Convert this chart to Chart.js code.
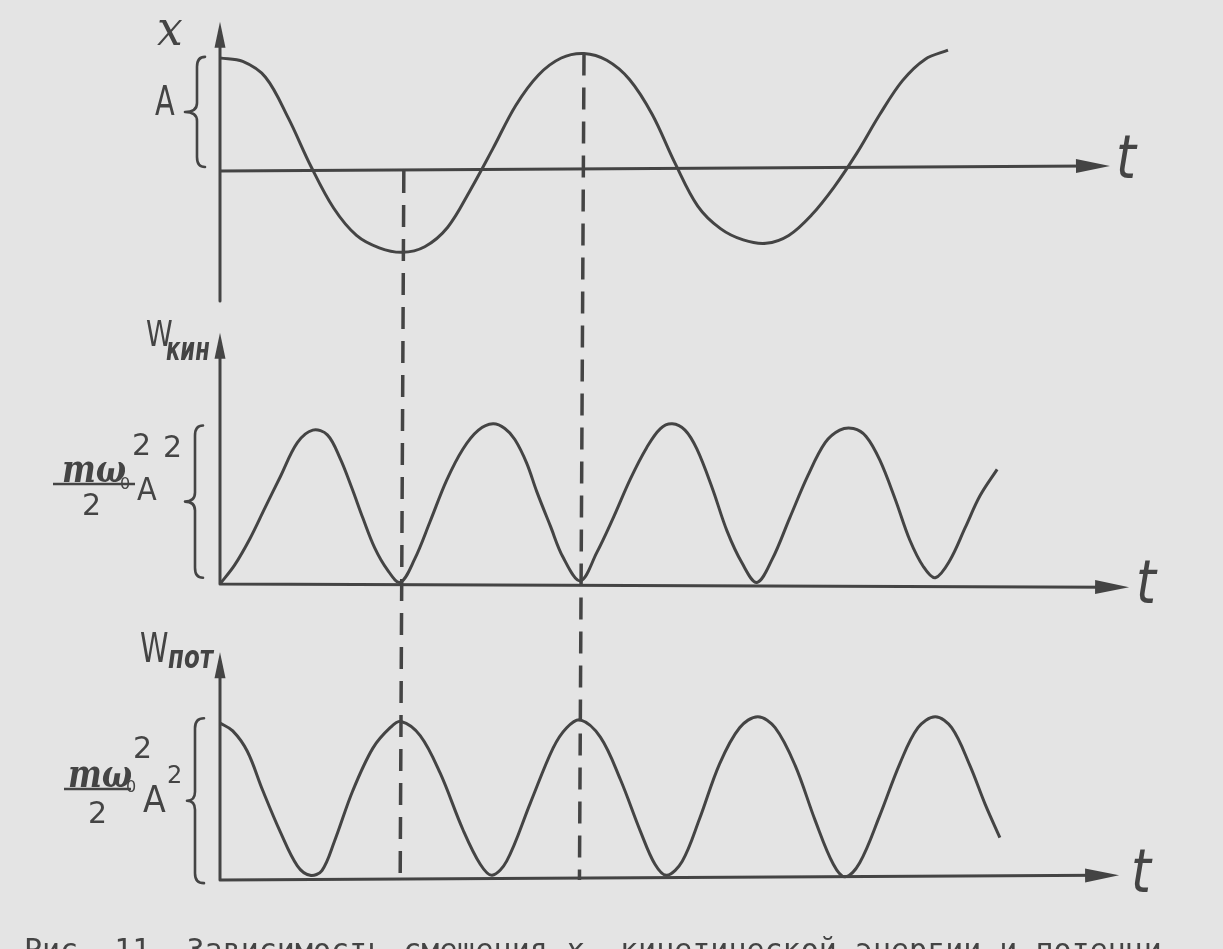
<!DOCTYPE html>
<html>
<head>
<meta charset="utf-8">
<title>Рис. 11</title>
<script src="https://cdn.jsdelivr.net/npm/chart.js@4.4.1/dist/chart.umd.min.js"></script>
<style>
    html, body { margin: 0; padding: 0; }
    body { width: 1223px; height: 949px; overflow: hidden; background: #e4e4e4; position: relative; }
    #fig { position: absolute; left: 0; top: 0; }
    #caption { position: absolute; left: 24px; top: 935px; font: 30px/30px "DejaVu Sans Mono", monospace; color: #444; white-space: pre; }
</style>
</head>
<body>
<canvas id="fig" width="1223" height="949"></canvas>
<div id="caption">Рис. 11. Зависимость смещения <i>x</i>, кинетической энергии и потенци-</div>
<script>
// displacement x(t), in units of A
const tX = [0, 0.25, 0.5, 0.75, 1.0, 1.25, 1.5, 1.75, 2.0, 2.25, 2.5, 2.75, 3.0, 3.25, 3.5, 3.75, 4.0,
    4.25, 4.5, 4.75, 5.0, 5.25, 5.5, 5.75, 6.0, 6.25, 6.5, 6.75, 7.0, 7.25, 7.5, 7.75, 8.0]
const xVals = [1.00, 0.97, 0.83, 0.47, 0.04, -0.33, -0.57, -0.68, -0.72, -0.67, -0.50, -0.17, 0.20, 0.58, 0.85, 1.00, 1.04,
    0.98, 0.81, 0.50, 0.07, -0.31, -0.51, -0.61, -0.64, -0.57, -0.39, -0.14, 0.16, 0.50, 0.80, 0.99, 1.07]

// kinetic energy, in units of m*w0^2*A^2/2
const tKin = [0, 0.16, 0.33, 0.49, 0.66, 0.85, 1.02, 1.18, 1.32, 1.45, 1.57, 1.70, 1.84, 1.98,
    2.14, 2.31, 2.49, 2.67, 2.84, 3.00, 3.13, 3.24, 3.37, 3.48, 3.63, 3.77, 3.96,
    4.14, 4.32, 4.51, 4.69, 4.84, 4.97, 5.11, 5.24, 5.41, 5.57, 5.74, 5.90,
    6.07, 6.26, 6.46, 6.65, 6.81, 6.96, 7.10, 7.25, 7.42, 7.58, 7.73, 7.86,
    8.02, 8.19, 8.35, 8.54]
const wKin = [0, 0.12, 0.29, 0.48, 0.68, 0.90, 0.98, 0.95, 0.80, 0.61, 0.42, 0.23, 0.09, 0.01,
    0.16, 0.40, 0.66, 0.86, 0.98, 1.02, 0.99, 0.92, 0.77, 0.59, 0.37, 0.17, 0.02,
    0.20, 0.42, 0.67, 0.87, 0.99, 1.02, 0.98, 0.86, 0.61, 0.34, 0.13, 0.01,
    0.16, 0.42, 0.69, 0.90, 0.98, 0.99, 0.94, 0.79, 0.54, 0.28, 0.11, 0.04,
    0.15, 0.36, 0.56, 0.73]

// potential energy, same units
const tPot = [0, 0.14, 0.30, 0.47, 0.66, 0.85, 0.99, 1.12, 1.26, 1.46, 1.68, 1.87, 1.99,
    2.20, 2.42, 2.67, 2.86, 2.99, 3.15, 3.41, 3.66, 3.81, 3.96,
    4.18, 4.40, 4.62, 4.78, 4.91, 5.08, 5.27, 5.49, 5.71, 5.91,
    6.10, 6.32, 6.54, 6.74, 6.87, 7.03, 7.25, 7.47, 7.67, 7.86,
    8.04, 8.24, 8.41, 8.57]
const wPot = [1.00, 0.95, 0.82, 0.57, 0.31, 0.09, 0.03, 0.06, 0.25, 0.57, 0.84, 0.97, 1.01,
    0.92, 0.68, 0.32, 0.10, 0.03, 0.12, 0.49, 0.84, 0.97, 1.02,
    0.91, 0.64, 0.31, 0.10, 0.03, 0.12, 0.39, 0.74, 0.97, 1.04,
    0.97, 0.73, 0.38, 0.10, 0.02, 0.11, 0.41, 0.74, 0.97, 1.04,
    0.97, 0.73, 0.48, 0.27]

// dashed guides: t at top / bottom, and x-value where each one starts
const guideTopT = [2.02, 4.0]
const guideBotT = [1.98, 3.95]
const guideStart = [0, 1.04]

const INK = "#444444"
const AREA_TOP = 20
const AREA_BOTTOM = 885

// y range so that value 0 sits at basePx with pxPerUnit scale
function band(basePx, pxPerUnit) {
    return { min: -(AREA_BOTTOM - basePx) / pxPerUnit, max: (basePx - AREA_TOP) / pxPerUnit }
}

function toPoints(ts, vs) {
    return ts.map((t, i) => ({ x: t, y: vs[i] }))
}

const panels = [
    { axis: "y1", top: 1.32, bottom: -1.15, end: 9.78, rise: 0.045, brace: [0.035, 1.01], braceX: [205, 197, 185] },
    { axis: "y2", top: 1.60, bottom: 0, end: 9.99, rise: -0.02, brace: [0.04, 1.01], braceX: [203, 195, 185] },
    { axis: "y3", top: 1.45, bottom: 0, end: 9.88, rise: 0.03, brace: [-0.02, 1.03], braceX: [204, 195, 187] }
]

// hand lettering next to the axes
const labels = [
    { s: "x", x: 157, y: 45, font: 'italic 48px "DejaVu Serif"', sx: 0.95 },
    { s: "A", x: 155, y: 115, font: '40px "DejaVu Sans"', sx: 0.72 },
    { s: "t", x: 1116, y: 178, font: 'oblique 60px "DejaVu Sans"', sx: 0.85 },

    { s: "W", x: 146, y: 346, font: '36px "DejaVu Sans"', sx: 0.75 },
    { s: "кин", x: 166, y: 360, font: 'bold oblique 32px "DejaVu Sans"', sx: 0.66 },
    { s: "mω", x: 62, y: 482, font: 'bold italic 40px "DejaVu Serif"', sx: 0.8 },
    { s: "0", x: 120, y: 489, font: '16px "DejaVu Sans"' },
    { s: "2", x: 132, y: 455, font: '30px "DejaVu Sans"' },
    { s: "2", x: 163, y: 457, font: '30px "DejaVu Sans"' },
    { s: "2", x: 82, y: 515, font: '30px "DejaVu Sans"' },
    { s: "A", x: 137, y: 500, font: '32px "DejaVu Sans"', sx: 0.9 },
    { s: "t", x: 1136, y: 603, font: 'oblique 60px "DejaVu Sans"', sx: 0.85 },

    { s: "W", x: 140, y: 662, font: '40px "DejaVu Sans"', sx: 0.72 },
    { s: "пот", x: 168, y: 668, font: 'bold oblique 32px "DejaVu Sans"', sx: 0.72 },
    { s: "mω", x: 68, y: 787, font: 'bold italic 40px "DejaVu Serif"', sx: 0.8 },
    { s: "0", x: 126, y: 792, font: '16px "DejaVu Sans"' },
    { s: "2", x: 133, y: 758, font: '30px "DejaVu Sans"' },
    { s: "2", x: 88, y: 823, font: '30px "DejaVu Sans"' },
    { s: "A", x: 143, y: 812, font: '37px "DejaVu Sans"', sx: 0.9 },
    { s: "2", x: 167, y: 783, font: '24px "DejaVu Sans"' },
    { s: "t", x: 1131, y: 892, font: 'oblique 60px "DejaVu Sans"', sx: 0.85 }
]

const fractionBars = [[53, 135, 484], [64, 131, 789]]

function drawText(ctx, l) {
    ctx.save()
    ctx.translate(l.x, l.y)
    ctx.scale(l.sx || 1, 1)
    ctx.font = l.font
    ctx.textBaseline = "alphabetic"
    ctx.fillText(l.s, 0, 0)
    ctx.restore()
}

function arrowHead(ctx, x1, y1, x2, y2, len, half) {
    const d = Math.hypot(x2 - x1, y2 - y1)
    const ux = (x2 - x1) / d, uy = (y2 - y1) / d
    const bx = x2 - ux * len, by = y2 - uy * len
    ctx.beginPath()
    ctx.moveTo(x2, y2)
    ctx.lineTo(bx - uy * half, by + ux * half)
    ctx.lineTo(bx + uy * half, by - ux * half)
    ctx.closePath()
    ctx.fill()
}

function brace(ctx, xr, xs, xt, yTop, yBot) {
    const ym = (yTop + yBot) / 2
    ctx.beginPath()
    ctx.moveTo(xr, yTop)
    ctx.quadraticCurveTo(xs, yTop, xs, yTop + 10)
    ctx.lineTo(xs, ym - 9)
    ctx.quadraticCurveTo(xs, ym, xt, ym)
    ctx.quadraticCurveTo(xs, ym, xs, ym + 9)
    ctx.lineTo(xs, yBot - 10)
    ctx.quadraticCurveTo(xs, yBot, xr, yBot)
    ctx.stroke()
}

const decor = {
    id: "decor",
    beforeDatasetsDraw(chart) {
        const ctx = chart.ctx
        const xs = chart.scales.x
        ctx.save()
        ctx.strokeStyle = INK
        ctx.fillStyle = INK
        ctx.lineCap = "round"
        ctx.lineJoin = "round"

        panels.forEach(p => {
            const ys = chart.scales[p.axis]
            const x0 = xs.getPixelForValue(0)
            const y0 = ys.getPixelForValue(0)
            const yTop = ys.getPixelForValue(p.top)
            const xEnd = xs.getPixelForValue(p.end)
            const yEnd = ys.getPixelForValue(p.rise)

            ctx.lineWidth = 3
            ctx.beginPath()
            ctx.moveTo(x0, ys.getPixelForValue(p.bottom))
            ctx.lineTo(x0, yTop + 20)
            ctx.moveTo(x0, y0)
            ctx.lineTo(xEnd - 20, yEnd)
            ctx.stroke()
            arrowHead(ctx, x0, y0, x0, yTop, 26, 5.5)
            arrowHead(ctx, x0, y0, xEnd, yEnd, 34, 7)

            ctx.lineWidth = 2.6
            brace(ctx, p.braceX[0], p.braceX[1], p.braceX[2],
                ys.getPixelForValue(p.brace[1]), ys.getPixelForValue(p.brace[0]))
        })

        // dashed guides through all three graphs
        ctx.lineWidth = 3.5
        ctx.lineCap = "butt"
        ctx.setLineDash([22, 12])
        const y1 = chart.scales.y1, y3 = chart.scales.y3
        guideTopT.forEach((t, i) => {
            ctx.beginPath()
            ctx.moveTo(xs.getPixelForValue(t), y1.getPixelForValue(guideStart[i]))
            ctx.lineTo(xs.getPixelForValue(guideBotT[i]), y3.getPixelForValue(0))
            ctx.stroke()
        })
        ctx.restore()
    },
    afterDraw(chart) {
        const ctx = chart.ctx
        ctx.save()
        ctx.fillStyle = INK
        ctx.strokeStyle = INK
        labels.forEach(l => drawText(ctx, l))
        ctx.lineWidth = 2.5
        fractionBars.forEach(b => {
            ctx.beginPath()
            ctx.moveTo(b[0], b[2])
            ctx.lineTo(b[1], b[2])
            ctx.stroke()
        })
        ctx.restore()
    }
}

const lineStyle = {
    showLine: true,
    pointRadius: 0,
    borderColor: INK,
    borderWidth: 3,
    tension: 0.35,
    fill: false
}

const figure = new Chart(document.getElementById("fig"), {
    type: "scatter",
    data: {
        datasets: [
            Object.assign({ label: "x", data: toPoints(tX, xVals), yAxisID: "y1" }, lineStyle),
            Object.assign({ label: "Wкин", data: toPoints(tKin, wKin), yAxisID: "y2" }, lineStyle),
            Object.assign({ label: "Wпот", data: toPoints(tPot, wPot), yAxisID: "y3" }, lineStyle)
        ]
    },
    options: {
        responsive: false,
        animation: false,
        layout: { padding: { left: 220, right: 93, top: AREA_TOP, bottom: 949 - AREA_BOTTOM } },
        plugins: { legend: { display: false }, tooltip: { enabled: false } },
        scales: {
            x: { type: "linear", min: 0, max: 10, bounds: "data", display: false },
            y1: Object.assign({ type: "linear", bounds: "data", display: false }, band(171, 113)),
            y2: Object.assign({ type: "linear", bounds: "data", display: false }, band(584, 157)),
            y3: Object.assign({ type: "linear", bounds: "data", display: false }, band(880, 157))
        }
    },
    plugins: [decor]
})
</script>
</body>
</html>
